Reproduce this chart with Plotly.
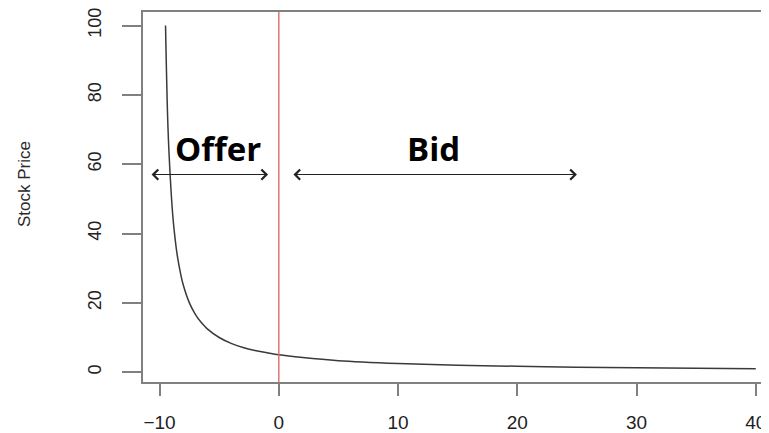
import plotly.graph_objects as go

# Curve
curve_x = [-9.5, -9.3, -9.1, -8.9, -8.7, -8.5, -8.2, -8.0, -7.5, -7.0, -6.5, -6.0, -5.0, -4.0,
           -3.0, -2.0, -1.0, 0.0, 2.0, 5.0, 10.0, 15.0, 20.0, 25.0, 30.0, 35.0, 40.0]
curve_y = [100, 71, 56, 45.5, 38.5, 33.3, 27.8, 25.0, 20.0, 16.7, 14.3, 12.5, 10.0, 8.3,
           7.1, 6.25, 5.6, 5.0, 4.2, 3.3, 2.5, 2.0, 1.7, 1.4, 1.25, 1.1, 1.0]

x_ticks = [-10, 0, 10, 20, 30, 40]
y_ticks = [0, 20, 40, 60, 80, 100]

divider_x = 0
label_texts = ["Offer", "Bid"]
label_x = [-5.1, 13.0]
label_y = [64.5, 64.5]
arrow_start = [-10.8, 1.1]
arrow_end = [-0.9, 25.0]
arrow_y = [57.0, 57.0]

fig = go.Figure()
fig.add_trace(go.Scatter(x=curve_x, y=curve_y, mode="lines",
                         line=dict(color="#3a3a3a", width=1.5, shape="spline"),
                         hoverinfo="skip", showlegend=False))

fig.add_shape(type="line", xref="x", yref="paper", x0=divider_x, x1=divider_x, y0=0, y1=1,
              line=dict(color="#e06a6a", width=1.4))

for t, lx, ly in zip(label_texts, label_x, label_y):
    fig.add_annotation(x=lx, y=ly, xref="x", yref="y", text=t, showarrow=False,
                       font=dict(family="Open Sans", size=33, color="#000000", weight=700))

for s, e, ay in zip(arrow_start, arrow_end, arrow_y):
    fig.add_annotation(x=e, y=ay, ax=s, ay=ay, xref="x", yref="y", axref="x", ayref="y",
                       text="", showarrow=True, arrowside="end+start", arrowhead=4,
                       arrowsize=1.8, arrowwidth=1.1, arrowcolor="#222222",
                       standoff=0, startstandoff=0)

fig.add_annotation(xref="paper", yref="paper", x=-0.19, y=0.535, text="Stock Price",
                   textangle=-90, showarrow=False, xanchor="center", yanchor="middle",
                   font=dict(family="Liberation Sans", size=17, color="#2a2a2a"))

fig.update_layout(
    width=761, height=425,
    margin=dict(l=135, r=0, t=0, b=49),
    plot_bgcolor="white", paper_bgcolor="white",
    xaxis=dict(range=[-11.39, 41.11], tickvals=x_ticks, ticktext=[str(v).replace("-", "−") for v in x_ticks],
               showgrid=False, zeroline=False, showline=True, linecolor="#808080", linewidth=1.8,
               mirror=True, ticks="outside", ticklen=12, tickwidth=1.8, tickcolor="#808080",
               ticklabelstandoff=10, ticklabeloverflow="allow",
               tickfont=dict(family="Liberation Sans", size=19, color="#222222")),
    yaxis=dict(range=[-2.84, 103.9], tickvals=y_ticks, tickangle=-90,
               showgrid=False, zeroline=False, showline=True, linecolor="#808080", linewidth=1.8,
               ticks="outside", ticklen=19, tickwidth=1.8, tickcolor="#808080",
               ticklabelstandoff=14, ticklabeloverflow="allow",
               tickfont=dict(family="Liberation Sans", size=18, color="#222222")),
)

fig.write_html("out.html")
